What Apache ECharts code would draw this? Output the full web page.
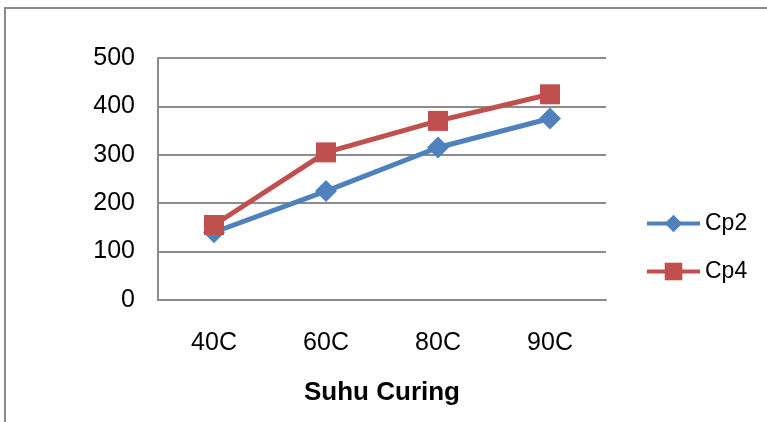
<!DOCTYPE html>
<html>
<head>
<meta charset="utf-8">
<script src="https://cdn.jsdelivr.net/npm/echarts@6/dist/echarts.min.js"></script>
<style>
  html, body { margin: 0; padding: 0; background: #fff; }
  #chart { width: 767px; height: 422px; }
</style>
</head>
<body>
<div id="chart"></div>
<script>
// Curing temperature categories and measured values per mix
const categories = ['40C', '60C', '80C', '90C'];
const cp2 = [140, 225, 315, 375];
const cp4 = [155, 305, 370, 425];
const yTicks = [0, 100, 200, 300, 400, 500];

const FONT = '"Liberation Sans", Arial, sans-serif';

const chart = echarts.init(document.getElementById('chart'), null, { renderer: 'canvas' });

chart.setOption({
  animation: false,
  backgroundColor: '#fff',
  graphic: [{
    type: 'rect',
    shape: { x: 5, y: 8, width: 800, height: 500 },
    style: { fill: 'none', stroke: '#8c8c8c', lineWidth: 2 },
    silent: true
  }],
  grid: { left: 158, top: 58, width: 448, height: 242 },
  legend: {
    orient: 'vertical',
    left: 640,
    top: 207,
    itemWidth: 53,
    itemHeight: 22,
    itemGap: 25,
    lineStyle: { width: 4 },
    textStyle: { fontFamily: FONT, fontSize: 23, color: '#000' },
    data: ['Cp2', 'Cp4']
  },
  xAxis: {
    type: 'category',
    data: categories,
    boundaryGap: true,
    name: 'Suhu Curing',
    nameLocation: 'middle',
    nameGap: 80,
    nameTextStyle: { fontFamily: FONT, fontSize: 26, fontWeight: 'bold', color: '#000' },
    axisLine: { show: true, lineStyle: { color: '#8c8c8c', width: 2 } },
    axisTick: { show: false },
    axisLabel: { fontFamily: FONT, fontSize: 25, color: '#000', margin: 31 }
  },
  yAxis: {
    type: 'value',
    min: yTicks[0],
    max: yTicks[yTicks.length - 1],
    interval: 100,
    axisLine: { show: true, lineStyle: { color: '#8c8c8c', width: 2 } },
    axisTick: { show: false },
    splitLine: { show: true, lineStyle: { color: '#8c8c8c', width: 2 } },
    axisLabel: { fontFamily: FONT, fontSize: 25, color: '#000', margin: 23 }
  },
  series: [
    {
      name: 'Cp2',
      type: 'line',
      data: cp2,
      symbol: 'diamond',
      symbolSize: 22,
      lineStyle: { color: '#4F81BD', width: 5 },
      itemStyle: { color: '#4F81BD' },
      z: 2
    },
    {
      name: 'Cp4',
      type: 'line',
      data: cp4,
      symbol: 'rect',
      symbolSize: 20,
      lineStyle: { color: '#C0504D', width: 5 },
      itemStyle: { color: '#C0504D' },
      z: 3
    }
  ]
});
</script>
</body>
</html>
